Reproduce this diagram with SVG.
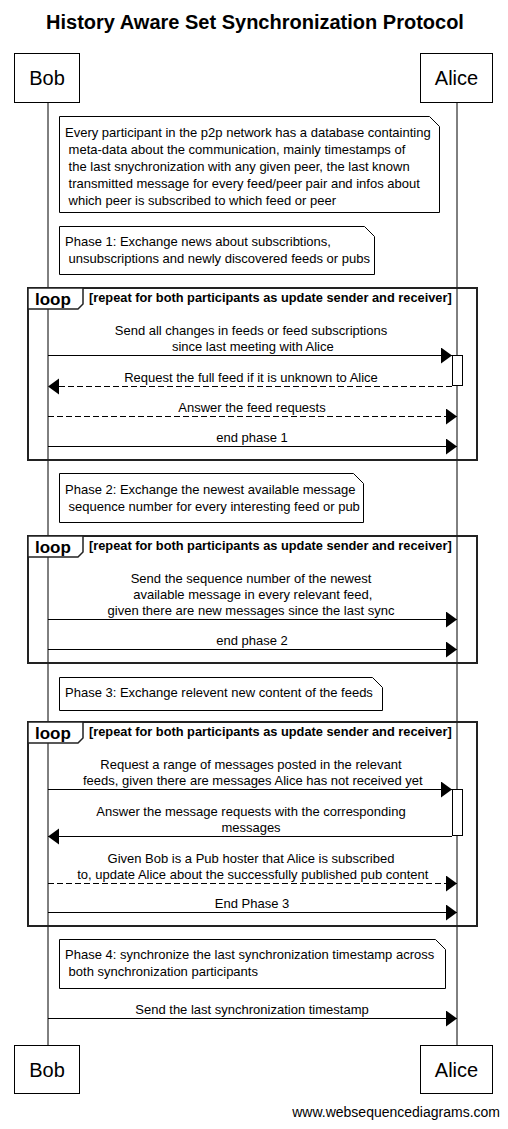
<svg xmlns="http://www.w3.org/2000/svg" width="508" height="1129" viewBox="0 0 508 1129">
<style>
text{font-family:"Liberation Sans",Arial,sans-serif;fill:#000}
.t{font-size:20px;font-weight:bold;text-anchor:middle}
.p{font-size:20px;text-anchor:middle}
.n{font-size:13px}
.m{font-size:13px;text-anchor:middle}
.lp{font-size:17px;font-weight:bold}
.c{font-size:12.8px;font-weight:bold}
.wm{font-size:14px;text-anchor:end}
.box{fill:#fff;stroke:#000;stroke-width:1}
.life{stroke:#000;stroke-width:1}
.note{fill:#fff;stroke:#000;stroke-width:1}
.frame{fill:none;stroke:#222;stroke-width:2}
.tab{fill:#fff;stroke:#222;stroke-width:1.5}
.act{fill:#fff;stroke:#000;stroke-width:1}
.a{stroke:#000;stroke-width:1;fill:none;marker-end:url(#ah)}
.d{stroke-dasharray:6,3}
</style>
<defs>
<marker id="ah" markerUnits="userSpaceOnUse" markerWidth="12" markerHeight="18" refX="11" refY="8" orient="auto" viewBox="0 0 12 18">
<path d="M0,0 L11,8 L0,16 Z" fill="#000"/>
</marker>
</defs>
<rect width="508" height="1129" fill="#fff"/>
<text class="t" x="255" y="29">History Aware Set Synchronization Protocol</text>

<g id="lifelines">
<line class="life" x1="48" y1="102" x2="48" y2="1045"/>
<line class="life" x1="457" y1="102" x2="457" y2="1045"/>
</g>

<g id="bob-top"><rect class="box" x="14.5" y="53.5" width="65" height="49"/><text class="p" x="47" y="85">Bob</text></g>
<g id="alice-top"><rect class="box" x="420.5" y="53.5" width="72" height="49"/><text class="p" x="456.5" y="85">Alice</text></g>
<g id="bob-bottom"><rect class="box" x="14.5" y="1045.5" width="65" height="48"/><text class="p" x="47" y="1077">Bob</text></g>
<g id="alice-bottom"><rect class="box" x="420.5" y="1045.5" width="72" height="48"/><text class="p" x="456.5" y="1077">Alice</text></g>

<g id="note1">
<path class="note" d="M59.5,116.5 H429.5 L439.5,126.5 V212.5 H59.5 Z"/>
<text class="n" x="65" y="137" xml:space="preserve">Every participant in the p2p network has a database containting</text>
<text class="n" x="65" y="154" xml:space="preserve"> meta-data about the communication, mainly timestamps of</text>
<text class="n" x="65" y="171" xml:space="preserve"> the last snychronization with any given peer, the last known</text>
<text class="n" x="65" y="188" xml:space="preserve"> transmitted message for every feed/peer pair and infos about</text>
<text class="n" x="65" y="205" xml:space="preserve"> which peer is subscribed to which feed or peer</text>
</g>

<g id="note2">
<path class="note" d="M59.5,226.5 H364.5 L374.5,236.5 V274.5 H59.5 Z"/>
<text class="n" x="65" y="246" xml:space="preserve">Phase 1: Exchange news about subscribtions,</text>
<text class="n" x="65" y="263" xml:space="preserve"> unsubscriptions and newly discovered feeds or pubs</text>
</g>

<g id="loop1">
<rect class="frame" x="28" y="288" width="449" height="172"/>
<path class="tab" d="M28,288 H83 V304 L78,309 H28 Z"/>
<text class="lp" x="35" y="305">loop</text>
<text class="c" x="89" y="302">[repeat for both participants as update sender and receiver]</text>
</g>

<g id="activation1"><rect class="act" x="452.5" y="355.5" width="10" height="30"/></g>

<g id="note3">
<path class="note" d="M59.5,473.5 H353.5 L363.5,483.5 V522.5 H59.5 Z"/>
<text class="n" x="65" y="494" xml:space="preserve">Phase 2: Exchange the newest available message</text>
<text class="n" x="65" y="511" xml:space="preserve"> sequence number for every interesting feed or pub</text>
</g>

<g id="loop2">
<rect class="frame" x="28" y="536" width="449" height="127"/>
<path class="tab" d="M28,536 H83 V552 L78,557 H28 Z"/>
<text class="lp" x="35" y="553">loop</text>
<text class="c" x="89" y="550">[repeat for both participants as update sender and receiver]</text>
</g>

<g id="note4">
<path class="note" d="M59.5,677.5 H372.5 L382.5,687.5 V710.5 H59.5 Z"/>
<text class="n" x="65" y="697" xml:space="preserve">Phase 3: Exchange relevent new content of the feeds</text>
</g>

<g id="loop3">
<rect class="frame" x="28" y="722" width="449" height="204"/>
<path class="tab" d="M28,722 H83 V738 L78,743 H28 Z"/>
<text class="lp" x="35" y="739">loop</text>
<text class="c" x="89" y="736">[repeat for both participants as update sender and receiver]</text>
</g>

<g id="activation2"><rect class="act" x="452.5" y="789.5" width="10" height="46"/></g>

<g id="note5">
<path class="note" d="M59.5,939.5 H435.5 L445.5,949.5 V988.5 H59.5 Z"/>
<text class="n" x="65" y="959" xml:space="preserve">Phase 4: synchronize the last synchronization timestamp across</text>
<text class="n" x="65" y="976" xml:space="preserve"> both synchronization participants</text>
</g>

<g id="connectors">
<line class="a" x1="48" y1="355.5" x2="452" y2="355.5"/>
<text class="m" x="251" y="335" xml:space="preserve">Send all changes in feeds or feed subscriptions</text>
<text class="m" x="251" y="351" xml:space="preserve"> since last meeting with Alice</text>

<line class="a d" x1="452" y1="386.5" x2="48" y2="386.5"/>
<text class="m" x="251" y="382">Request the full feed if it is unknown to Alice</text>

<line class="a d" x1="48" y1="416.5" x2="457" y2="416.5"/>
<text class="m" x="252" y="412">Answer the feed requests</text>

<line class="a" x1="48" y1="446.5" x2="457" y2="446.5"/>
<text class="m" x="252" y="442">end phase 1</text>

<line class="a" x1="48" y1="619.5" x2="457" y2="619.5"/>
<text class="m" x="251" y="583" xml:space="preserve">Send the sequence number of the newest</text>
<text class="m" x="251" y="599" xml:space="preserve"> available message in every relevant feed,</text>
<text class="m" x="251" y="615" xml:space="preserve">given there are new messages since the last sync</text>

<line class="a" x1="48" y1="649.5" x2="457" y2="649.5"/>
<text class="m" x="252" y="645">end phase 2</text>

<line class="a" x1="48" y1="789.5" x2="452" y2="789.5"/>
<text class="m" x="251" y="769" xml:space="preserve">Request a range of messages posted in the relevant</text>
<text class="m" x="251" y="785" xml:space="preserve"> feeds, given there are messages Alice has not received yet</text>

<line class="a" x1="452" y1="836.5" x2="48" y2="836.5"/>
<text class="m" x="251" y="816" xml:space="preserve">Answer the message requests with the corresponding</text>
<text class="m" x="251" y="832" xml:space="preserve">messages</text>

<line class="a d" x1="48" y1="883.5" x2="457" y2="883.5"/>
<text class="m" x="251" y="863" xml:space="preserve">Given Bob is a Pub hoster that Alice is subscribed</text>
<text class="m" x="251" y="879" xml:space="preserve"> to, update Alice about the successfully published pub content</text>

<line class="a" x1="48" y1="912.5" x2="457" y2="912.5"/>
<text class="m" x="252" y="908">End Phase 3</text>

<line class="a" x1="48" y1="1018.5" x2="457" y2="1018.5"/>
<text class="m" x="252" y="1014">Send the last synchronization timestamp</text>
</g>

<text class="wm" x="500" y="1117">www.websequencediagrams.com</text>
</svg>
